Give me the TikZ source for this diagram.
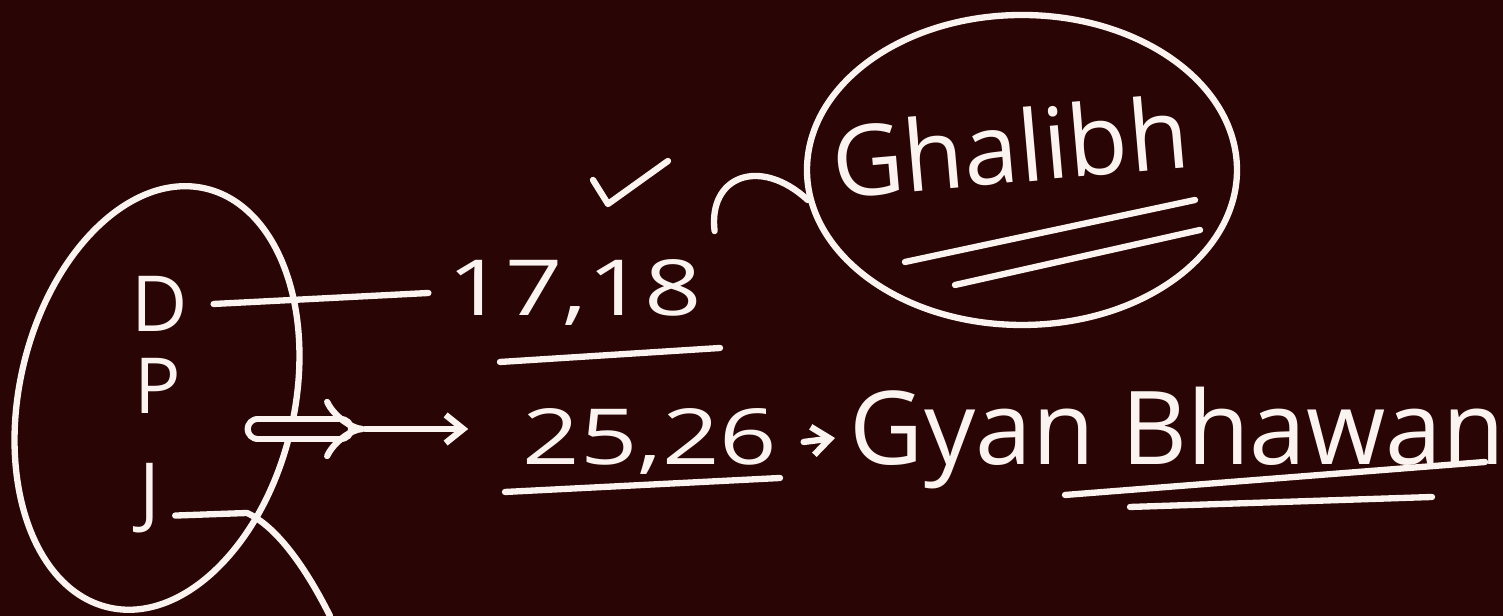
\documentclass[tikz,border=0pt]{standalone}
\usepackage{fontspec}
\setmainfont{Open Sans}
\usetikzlibrary{arrows.meta,shapes.geometric}
\definecolor{board}{RGB}{42,5,5}
\definecolor{chalk}{RGB}{250,243,240}
\begin{document}
\begin{tikzpicture}[>={Straight Barb[length=5pt,width=8pt]},line width=1.8pt,line cap=round,line join=round,draw=chalk,
  every node/.style={text=chalk},
  hand/.style={font=\fontsize{#1}{#1}\selectfont},hand/.default=22]
\fill[board](0,0)rectangle(15.03,6.16);
\useasboundingbox(0,0)rectangle(15.03,6.16);
% left group
\node[draw,ellipse,minimum width=4.3cm,minimum height=2.75cm,rotate=77](grp)at(1.57,2.18){};
\node[hand](D)at(1.6,3.12){D};
\node[hand](P)at(1.58,2.3){P};
\node[hand](J)at(1.5,1.18){J};
% rooms
\node[hand,xscale=1.3](n1718)at(5.75,3.23){17,18};
\node[hand,xscale=1.3](n2526)at(6.5,1.74){25,26};
\node[hand=29,anchor=west](gyan)at(8.35,1.78){Gyan Bhawan};
\node[draw,ellipse,minimum width=4.3cm,minimum height=3.1cm](gh)at(10.22,4.46){};
\node[hand=28,rotate=5](ghalib)at(10.1,4.7){Ghalibh};
\coordinate(jend)at(3.3,0);
% connectors
\draw([xshift=3pt]D.east)--(n1718.west);
\draw[double=board,double distance=4pt,-{Implies}](2.58,1.87)coordinate(a1)--(3.65,1.87)coordinate(a2);
\draw[->](a2)--([xshift=-10pt]a2-|n2526.west);
\draw[->]([xshift=2pt]n2526.east)--(gyan.west);
\draw([yshift=-5pt]J.east)--(2.47,1.03)..controls(2.8,0.88)and(3.1,0.4)..(jend);
\draw([shift={(-2pt,4pt)}]n1718.north east)..controls(7.08,4.4)and(7.6,4.6)..(gh.188);
\draw(5.93,4.36)--(6.08,4.12)--(6.68,4.55);
% underlines
\draw(5.0,2.54)--(7.2,2.68);
\draw(5.05,1.24)--(7.8,1.38);
\draw(9.05,3.54)--(11.95,4.16)(9.55,3.31)--(12.0,3.86);
\draw(10.65,1.21)--(14.85,1.54)(11.3,1.09)--(14.32,1.19);
\end{tikzpicture}
\end{document}
